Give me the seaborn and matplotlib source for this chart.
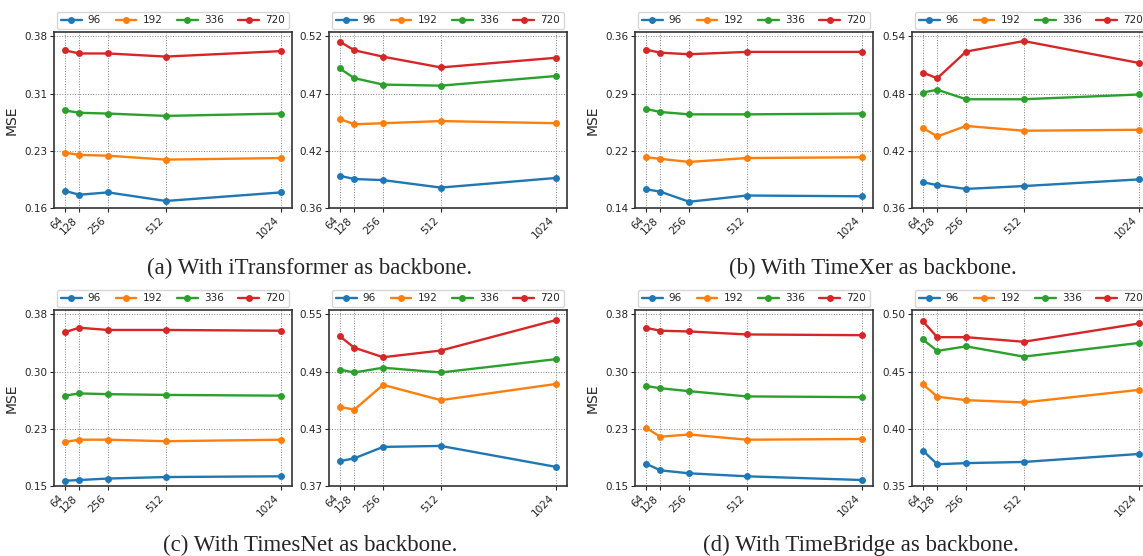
import numpy as np
import pandas as pd
import matplotlib
matplotlib.use('Agg')
import matplotlib.pyplot as plt
import seaborn as sns

sns.set_style("ticks")
plt.rcParams['font.family'] = ['DejaVu Sans']

lookback = [64, 128, 256, 512, 1024]
horizons = ['96', '192', '336', '720']
colors = ['#1f77b4', '#ff7f0e', '#2ca02c', '#d62728']

# rows: horizon 96, 192, 336, 720 ; columns: lookback 64..1024
itrans_left = [[0.182, 0.177, 0.180, 0.169, 0.180],
               [0.231, 0.228, 0.227, 0.222, 0.224],
               [0.285, 0.282, 0.281, 0.278, 0.281],
               [0.362, 0.358, 0.358, 0.354, 0.361]]
itrans_right = [[0.390, 0.387, 0.386, 0.379, 0.388],
                [0.443, 0.438, 0.439, 0.441, 0.439],
                [0.490, 0.481, 0.475, 0.474, 0.483],
                [0.515, 0.507, 0.501, 0.491, 0.500]]
timexer_left = [[0.164, 0.161, 0.148, 0.156, 0.155],
                [0.205, 0.203, 0.199, 0.204, 0.205],
                [0.267, 0.263, 0.260, 0.260, 0.261],
                [0.343, 0.339, 0.337, 0.340, 0.340]]
timexer_right = [[0.387, 0.384, 0.380, 0.383, 0.390],
                 [0.444, 0.435, 0.446, 0.441, 0.442],
                 [0.481, 0.484, 0.474, 0.474, 0.479],
                 [0.502, 0.496, 0.524, 0.535, 0.512]]
timesnet_left = [[0.157, 0.158, 0.160, 0.162, 0.163],
                 [0.209, 0.212, 0.212, 0.210, 0.212],
                 [0.271, 0.274, 0.273, 0.272, 0.271],
                 [0.356, 0.362, 0.359, 0.359, 0.358]]
timesnet_right = [[0.396, 0.399, 0.411, 0.412, 0.390],
                  [0.453, 0.450, 0.476, 0.460, 0.477],
                  [0.492, 0.489, 0.494, 0.489, 0.503],
                  [0.527, 0.515, 0.505, 0.512, 0.544]]
timebridge_left = [[0.180, 0.171, 0.167, 0.163, 0.158],
                   [0.228, 0.216, 0.219, 0.212, 0.213],
                   [0.284, 0.281, 0.277, 0.270, 0.269],
                   [0.362, 0.358, 0.357, 0.353, 0.352]]
timebridge_right = [[0.381, 0.369, 0.370, 0.371, 0.378],
                    [0.439, 0.428, 0.425, 0.423, 0.434],
                    [0.478, 0.468, 0.472, 0.463, 0.475],
                    [0.494, 0.480, 0.480, 0.476, 0.492]]

ytick_labels = {
    'itrans_left': ['0.16', '0.23', '0.31', '0.38'],
    'itrans_right': ['0.36', '0.42', '0.47', '0.52'],
    'timexer_left': ['0.14', '0.22', '0.29', '0.36'],
    'timexer_right': ['0.36', '0.42', '0.48', '0.54'],
    'timesnet_left': ['0.15', '0.23', '0.30', '0.38'],
    'timesnet_right': ['0.37', '0.43', '0.49', '0.55'],
    'timebridge_left': ['0.15', '0.23', '0.30', '0.38'],
    'timebridge_right': ['0.35', '0.40', '0.45', '0.50'],
}

captions = ['(a) With iTransformer as backbone.',
            '(b) With TimeXer as backbone.',
            '(c) With TimesNet as backbone.',
            '(d) With TimeBridge as backbone.']


def draw_panel(ax, values, labels, show_ylabel):
    rows = []
    for h, series in zip(horizons, values):
        for x, v in zip(lookback, series):
            rows.append({'lookback': x, 'MSE': v, 'horizon': h})
    df = pd.DataFrame(rows)
    sns.lineplot(data=df, x='lookback', y='MSE', hue='horizon', hue_order=horizons,
                 palette=colors, marker='o', markersize=5, markeredgewidth=0,
                 linewidth=1.7, ax=ax, legend=False)

    lo, hi = float(labels[0]), float(labels[-1])
    ticks = np.linspace(lo, hi, 4)
    ax.set_yticks(ticks)
    ax.set_yticklabels(labels, fontsize=7.5)
    ax.set_ylim(lo, hi + 0.025 * (hi - lo))
    ax.set_xticks(lookback)
    ax.set_xticklabels([str(v) for v in lookback], rotation=45, ha='right', fontsize=7.5)
    ax.tick_params(length=3, width=0.8, pad=2)
    ax.grid(True, linestyle=':', color='gray', linewidth=0.7)
    ax.set_xlabel('')
    ax.set_ylabel('MSE' if show_ylabel else '', fontsize=10, labelpad=4)
    for sp in ax.spines.values():
        sp.set_visible(True)
        sp.set_color('#333333')
        sp.set_linewidth(1.2)

    ax.legend(ax.lines[:4], horizons, ncol=4, loc='lower left',
              bbox_to_anchor=(0, 1.0, 1, 0.1), mode='expand', fontsize=7.5,
              handlelength=2.0, borderaxespad=0.3, borderpad=0.35,
              frameon=True, edgecolor='#cccccc', fancybox=True,
              columnspacing=0.8, handletextpad=0.6)


fig = plt.figure(figsize=(11.43, 5.56), dpi=100)

col_left = [54, 329, 635, 912]
row_top = [32, 310]
ax_w, ax_h = 238, 176
W, H = 1143, 556

panels = [
    [('itrans_left', itrans_left), ('itrans_right', itrans_right),
     ('timexer_left', timexer_left), ('timexer_right', timexer_right)],
    [('timesnet_left', timesnet_left), ('timesnet_right', timesnet_right),
     ('timebridge_left', timebridge_left), ('timebridge_right', timebridge_right)],
]

for r, row in enumerate(panels):
    for c, (name, vals) in enumerate(row):
        rect = [col_left[c] / W, 1 - (row_top[r] + ax_h) / H, ax_w / W, ax_h / H]
        ax = fig.add_axes(rect)
        draw_panel(ax, vals, ytick_labels[name], show_ylabel=(c % 2 == 0))

cap_pos = [(310, 268), (873, 268), (310, 545), (861, 545)]
for text, (cx, cy) in zip(captions, cap_pos):
    fig.text(cx / W, 1 - cy / H, text, ha='center', va='center',
             fontsize=16.5, family=['Liberation Serif', 'DejaVu Serif'])

fig.savefig('out.png', dpi=100)
